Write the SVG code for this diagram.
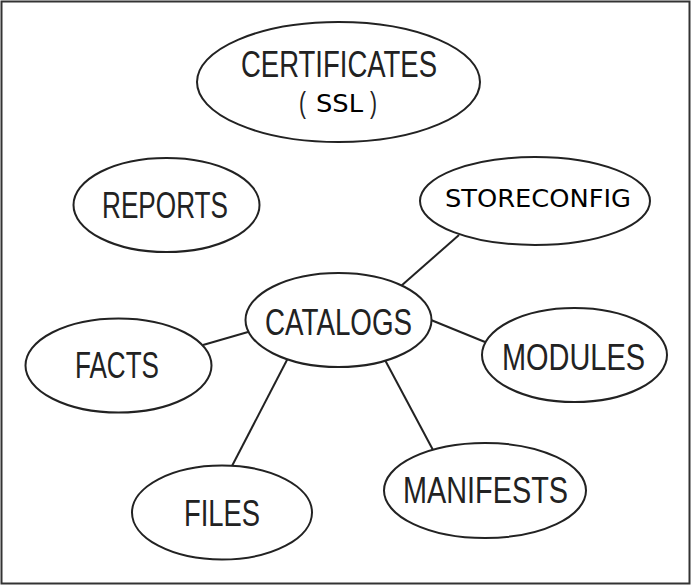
<svg xmlns="http://www.w3.org/2000/svg" width="692" height="586" viewBox="0 0 692 586">
<style>
.n{fill:#fff;stroke:#222;stroke-width:2}
.t{font-family:"Liberation Sans",Arial,sans-serif;font-size:36px;fill:#222;text-anchor:middle}
.p{font-family:"Liberation Sans",Arial,sans-serif;font-size:30px;fill:#222;text-anchor:middle}
.d{font-family:"DejaVu Sans",Verdana,sans-serif;font-size:25px;fill:#000}
.c line{stroke:#222;stroke-width:2}
</style>
<rect x="1.5" y="1.5" width="688" height="582" fill="#fff" stroke="#333" stroke-width="2"/>
<g class="c" id="connectors">
<line x1="401" y1="286" x2="459" y2="235"/>
<line x1="248" y1="332" x2="203" y2="345"/>
<line x1="431" y1="320" x2="485" y2="342"/>
<line x1="288" y1="358" x2="232" y2="466"/>
<line x1="385" y1="360" x2="433" y2="450"/>
</g>
<g id="certificates">
<ellipse class="n" cx="338.5" cy="82" rx="141.5" ry="60"/>
<text class="t" x="339" y="77" textLength="196" lengthAdjust="spacingAndGlyphs">CERTIFICATES</text>
<text class="p" x="302.5" y="112.5" textLength="7" lengthAdjust="spacingAndGlyphs">(</text>
<text class="d" x="316" y="112" font-size="27" textLength="47" lengthAdjust="spacingAndGlyphs">SSL</text>
<text class="p" x="373.5" y="112.5" textLength="7" lengthAdjust="spacingAndGlyphs">)</text>
</g>
<g id="reports">
<ellipse class="n" cx="166.5" cy="205" rx="93" ry="47"/>
<text class="t" x="165" y="218" textLength="126" lengthAdjust="spacingAndGlyphs">REPORTS</text>
</g>
<g id="storeconfig">
<ellipse class="n" cx="535" cy="201" rx="115" ry="44"/>
<text class="d" x="445" y="207" textLength="186" lengthAdjust="spacingAndGlyphs">STORECONFIG</text>
</g>
<g id="catalogs">
<ellipse class="n" cx="338.5" cy="320" rx="93" ry="47"/>
<text class="t" x="338.5" y="335" textLength="147" lengthAdjust="spacingAndGlyphs">CATALOGS</text>
</g>
<g id="facts">
<ellipse class="n" cx="118.5" cy="365.5" rx="93" ry="47"/>
<text class="t" x="117" y="378" textLength="84" lengthAdjust="spacingAndGlyphs">FACTS</text>
</g>
<g id="modules">
<ellipse class="n" cx="574.5" cy="355" rx="92.5" ry="47"/>
<text class="t" x="573.5" y="370" textLength="143" lengthAdjust="spacingAndGlyphs">MODULES</text>
</g>
<g id="files">
<ellipse class="n" cx="222" cy="512.5" rx="90" ry="47"/>
<text class="t" x="222" y="526" textLength="76" lengthAdjust="spacingAndGlyphs">FILES</text>
</g>
<g id="manifests">
<ellipse class="n" cx="485" cy="490.5" rx="101" ry="47.5"/>
<text class="t" x="485.5" y="503" textLength="165" lengthAdjust="spacingAndGlyphs">MANIFESTS</text>
</g>
</svg>
